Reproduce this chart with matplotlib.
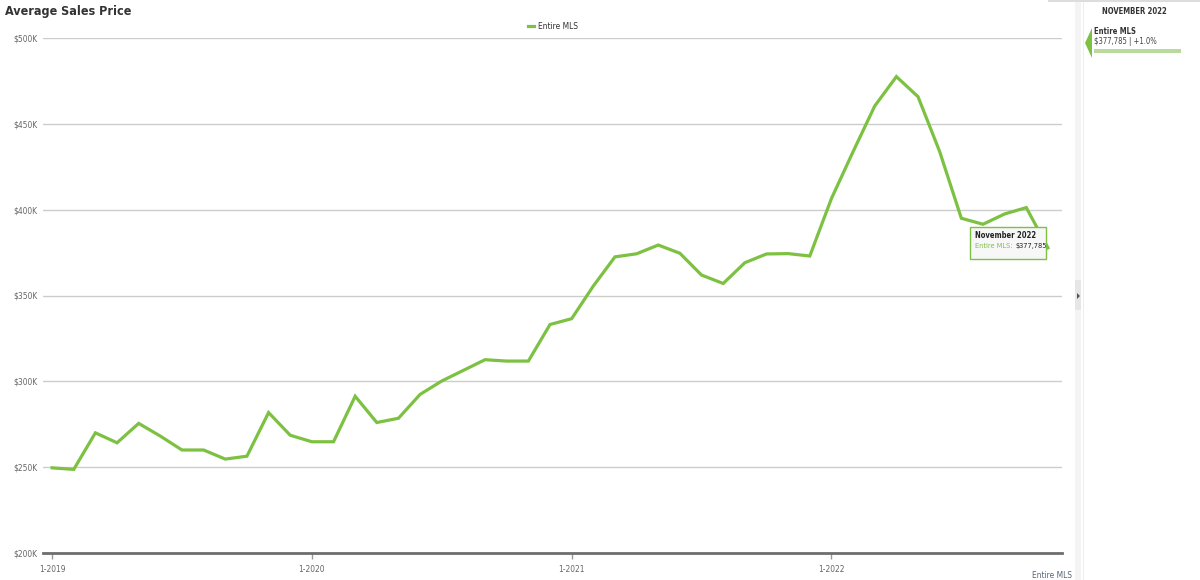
"""Average Sales Price line chart, Entire MLS, Jan 2019 - Nov 2022."""

import matplotlib.pyplot as plt
from matplotlib.patches import Rectangle, Polygon

plt.rcParams["font.family"] = ["DejaVu Sans"]
plt.rcParams["font.stretch"] = "condensed"

# --- data (thousands of dollars), monthly ---
months = [f"{m}-{y}" for y in (2019, 2020, 2021, 2022) for m in range(1, 13)][:47]
avg_price_k = [
    249.6, 248.7, 270.0, 264.2, 275.5, 268.1, 260.0, 260.0, 254.7, 256.4, 281.8, 268.6,
    264.8, 264.8, 291.3, 276.0, 278.5, 292.4, 300.2, 306.4, 312.6, 311.8, 311.8, 333.1,
    336.5, 355.5, 372.5, 374.3, 379.4, 374.6, 361.9, 357.0, 369.1, 374.2, 374.4, 373.0,
    406.5, 433.8, 460.4, 477.5, 465.8, 433.8, 395.0, 391.5, 397.5, 401.2, 377.785,
]
series_name = "Entire MLS"
tick_labels = ["1-2019", "1-2020", "1-2021", "1-2022"]
y_ticks_k = [200, 250, 300, 350, 400, 450, 500]

GREEN = "#7DC142"
GRAY_TXT = "#666666"

fig = plt.figure(figsize=(12, 5.8), dpi=100)
W, H = 1200, 580
ax = fig.add_axes([43 / W, (H - 553) / H, (1062 - 43) / W, (553 - 38) / H])

x = list(range(len(avg_price_k)))
ax.plot(x, avg_price_k, color=GREEN, linewidth=2.3, solid_joinstyle="miter", label=series_name, zorder=3)

ax.set_xlim(-0.42, 46.65)
ax.set_ylim(200, 500)
ax.set_yticks(y_ticks_k)
ax.set_yticklabels([f"${v}K" for v in y_ticks_k], fontsize=6, color=GRAY_TXT)
ax.set_xticks([0, 12, 24, 36])
ax.set_xticklabels(tick_labels, fontsize=6, color=GRAY_TXT)
ax.tick_params(axis="y", length=0, pad=4)
ax.tick_params(axis="x", length=4, width=1, color="#999999", pad=5)
ax.grid(axis="y", color="#CCCCCC", linewidth=1)
ax.set_axisbelow(True)
for side in ("left", "right", "top"):
    ax.spines[side].set_visible(False)
ax.spines["bottom"].set_color("#6E6E6E")
ax.spines["bottom"].set_linewidth(2)
ax.spines["bottom"].set_zorder(4)

# title, legend, axis caption
fig.text(5 / W, 1 - 12 / H, "Average Sales Price", fontsize=9, color="#333333", va="center", fontweight="bold")
ax.legend(loc="upper center", bbox_to_anchor=(0.5, 1.045), frameon=False, fontsize=6,
          handlelength=0.8, handletextpad=0.4, labelcolor="#333333")
fig.text(1072 / W, 1 - 576 / H, series_name, fontsize=6, color="#556677", ha="right", va="center")

# tooltip for last point
fig.patches.append(Rectangle((970 / W, 1 - 259 / H), 76 / W, 32 / H, transform=fig.transFigure,
                             fc="#F7F7F7", ec=GREEN, lw=1, zorder=6))
fig.text(975 / W, 1 - 235 / H, "November 2022", fontsize=5.5, color="#222222", fontweight="bold",
         va="center", zorder=7)
lbl = fig.text(975 / W, 1 - 246 / H, "Entire MLS:", fontsize=5.3, color=GREEN, va="center", zorder=7)
fig.add_artist(plt.Annotation(f"${avg_price_k[-1] * 1000:,.0f}", xy=(1, 0.5), xycoords=lbl,
                              xytext=(2, 0), textcoords="offset points",
                              va="center", ha="left", fontsize=5.3, color="#222222", zorder=7))

# right-hand side panel
fig.patches.append(Rectangle((1075 / W, 0), 6 / W, 1, transform=fig.transFigure, fc="#F4F4F4", ec="none"))
fig.patches.append(Rectangle((1075 / W, 1 - 310 / H), 6 / W, 30 / H, transform=fig.transFigure,
                             fc="#E6E6E6", ec="none"))
fig.patches.append(Polygon([(1077 / W, 1 - 293 / H), (1077 / W, 1 - 299 / H), (1080 / W, 1 - 296 / H)],
                           closed=True, transform=fig.transFigure, fc="#555555", ec="none"))
fig.patches.append(Rectangle((1083 / W, 0), 1 / W, 1, transform=fig.transFigure, fc="#EEEEEE", ec="none"))
fig.patches.append(Rectangle((1048 / W, 1 - 2 / H), 152 / W, 2 / H, transform=fig.transFigure,
                             fc="#DDDDDD", ec="none"))
fig.text(1134 / W, 1 - 12 / H, "NOVEMBER 2022", fontsize=5.5, color="#333333", ha="center", va="center",
         fontweight="bold")
fig.patches.append(Polygon([(1092 / W, 1 - 28 / H), (1092 / W, 1 - 58 / H), (1085 / W, 1 - 43 / H)],
                           closed=True, transform=fig.transFigure, fc=GREEN, ec="none"))
fig.text(1094 / W, 1 - 31 / H, series_name, fontsize=5.5, color="#333333", va="center", fontweight="bold")
fig.text(1094 / W, 1 - 42 / H, f"${avg_price_k[-1] * 1000:,.0f} | +1.0%", fontsize=5.5, color="#444444",
         va="center")
fig.patches.append(Rectangle((1094 / W, 1 - 53 / H), 87 / W, 4 / H, transform=fig.transFigure,
                             fc="#B8DA9C", ec="none"))

fig.savefig("out.png", dpi=100)
